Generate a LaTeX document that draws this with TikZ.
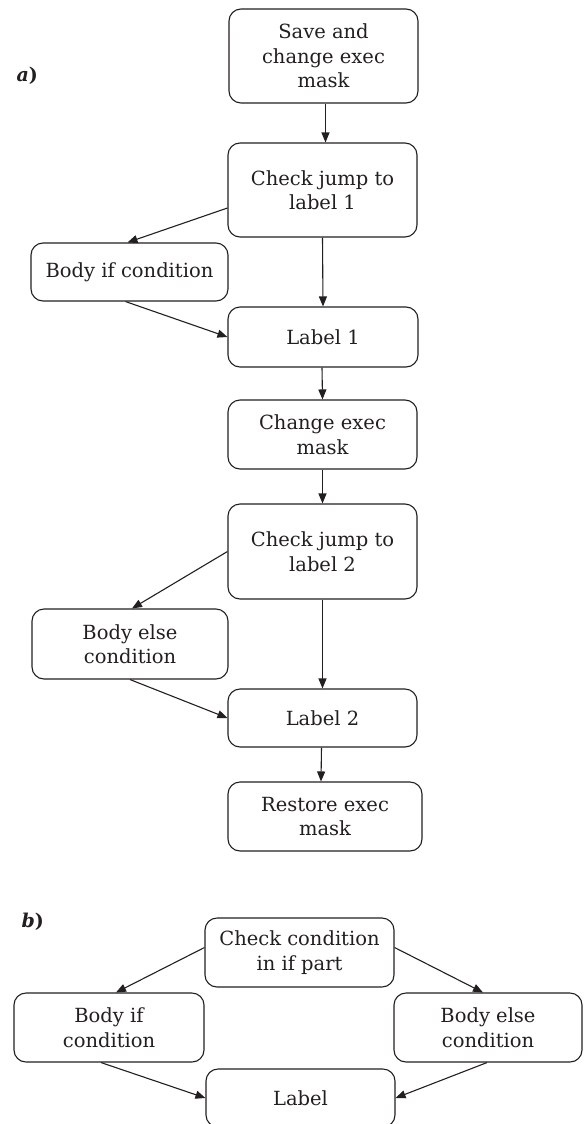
\documentclass[tikz,border=0pt]{standalone}
\usepackage{fontspec}
\setmainfont{DejaVu Serif}
\usetikzlibrary{arrows.meta}
\definecolor{inkc}{HTML}{231F20}
\begin{document}
\begin{tikzpicture}[x=1pt,y=-1pt,
  box/.style={draw=inkc, line width=1.1pt, rounded corners=12pt, align=center,
    inner sep=2pt, text=inkc, font=\fontsize{19.5}{24.5}\selectfont},
  arr/.style={draw=inkc, line width=1.1pt, -{Triangle[length=10pt,width=8pt]}},
  tag/.style={anchor=west, text=inkc, font=\fontsize{19}{24}\selectfont\bfseries}]
\clip (0,0) rectangle (584,1124);
\fill[white] (0,0) rectangle (584,1124);

% ---- part a: if/else via exec mask ----
\node[tag] (ta) at (13,76) {\itshape a\/\upshape)};
\node[box, minimum width=189pt, minimum height=94pt] (save) at (323.5,56)
  {Save and\\change exec\\mask};
\node[box, minimum width=189pt, minimum height=94pt] (chk1) at (322.5,190)
  {Check jump to\\label 1};
\node[box, minimum width=197pt, minimum height=58pt] (bif) at (129.5,272)
  {Body if condition};
\node[box, minimum width=190pt, minimum height=60pt] (lab1) at (323,337)
  {Label 1};
\node[box, minimum width=189pt, minimum height=69pt] (chg) at (322.5,434.5)
  {Change exec\\mask};
\node[box, minimum width=189pt, minimum height=95pt] (chk2) at (322.5,551.5)
  {Check jump to\\label 2};
\node[box, minimum width=196pt, minimum height=70pt] (belse) at (130,644)
  {Body else\\condition};
\node[box, minimum width=189pt, minimum height=58pt] (lab2) at (322.5,718)
  {Label 2};
\node[box, minimum width=194pt, minimum height=69pt] (rest) at (325,816.5)
  {Restore exec\\mask};

\draw[arr] ([xshift=2pt]save.south) -- ([xshift=3pt]chk1.north);
\draw[arr] ([yshift=-18pt]chk1.west) -- ([xshift=-2pt]bif.north);
\draw[arr] (chk1.south) -- (lab1.north);
\draw[arr] ([xshift=-4pt]bif.south) -- (lab1.west);
\draw[arr] ([xshift=-1pt]lab1.south) -- (chg.north);
\draw[arr] (chg.south) -- (chk2.north);
\draw[arr] (chk2.west) -- ([xshift=2pt]belse.north);
\draw[arr] (chk2.south) -- (lab2.north);
\draw[arr] (belse.south) -- (lab2.west);
\draw[arr] ([xshift=-1pt]lab2.south) -- ([xshift=-4pt]rest.north);

% ---- part b: branching if/else ----
\node[tag] (tb) at (18,922) {\itshape b\/\upshape)};
\node[box, minimum width=189pt, minimum height=69pt] (chkc) at (299.5,952.5)
  {Check condition\\in if part};
\node[box, minimum width=190pt, minimum height=69pt] (bif2) at (109,1027.5)
  {Body if\\condition};
\node[box, minimum width=188pt, minimum height=69pt] (belse2) at (488,1027.5)
  {Body else\\condition};
\node[box, minimum width=189pt, minimum height=58pt] (lab) at (300.5,1098)
  {Label};

\draw[arr] ([yshift=5pt]chkc.west) -- ([xshift=7pt]bif2.north);
\draw[arr] ([yshift=5pt]chkc.east) -- ([xshift=-5pt]belse2.north);
\draw[arr] ([xshift=-8pt]bif2.south) -- (lab.west);
\draw[arr] ([xshift=-1pt]belse2.south) -- (lab.east);
\end{tikzpicture}
\end{document}
